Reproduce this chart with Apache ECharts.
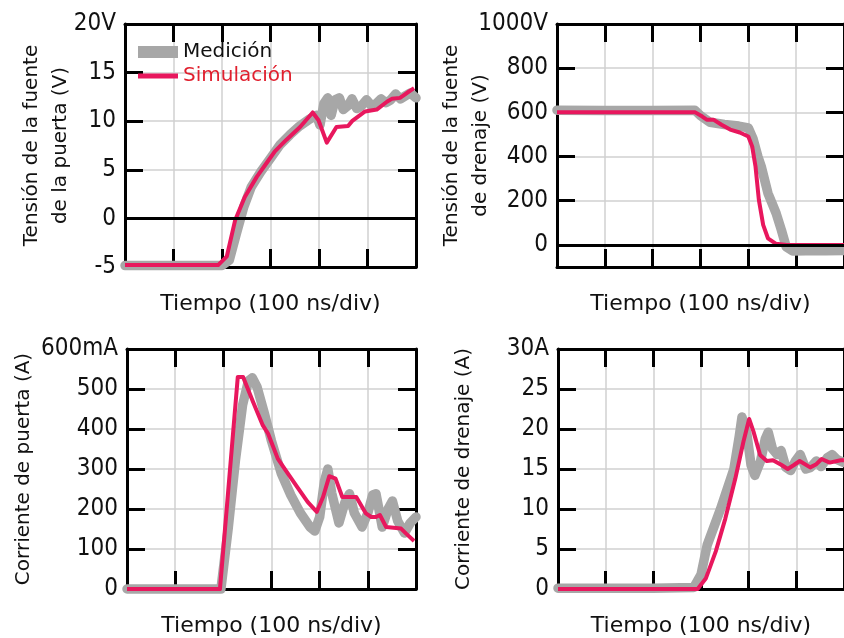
<!DOCTYPE html>
<html>
<head>
<meta charset="utf-8">
<script src="https://cdn.jsdelivr.net/npm/echarts@6/dist/echarts.min.js"></script>
<style>
html,body{margin:0;padding:0;background:#fff;}
#chart{width:844px;height:638px;}
</style>
</head>
<body>
<div id="chart"></div>
<script>
// ---- Data (time in divisions of 100 ns) ----
// Panel 1: gate-source voltage (V)
const vgsMeasT = [0, 0.5, 1.0, 1.5, 2.0, 2.15, 2.3, 2.45, 2.6, 2.8, 3.0, 3.2, 3.4, 3.6, 3.8, 3.95, 4.02, 4.1, 4.18, 4.25, 4.33, 4.42, 4.5, 4.6, 4.68, 4.78, 4.88, 4.98, 5.08, 5.18, 5.28, 5.38, 5.48, 5.58, 5.68, 5.78, 5.88, 6.0];
const vgsMeasV = [-4.85, -4.85, -4.85, -4.85, -4.85, -4.3, -1.5, 1.2, 3.2, 4.8, 6.2, 7.6, 8.6, 9.5, 10.2, 10.6, 9.6, 11.8, 12.4, 10.6, 12.2, 12.4, 11.2, 11.6, 12.3, 11.3, 11.6, 12.2, 11.6, 11.8, 12.3, 11.9, 12.2, 12.8, 12.3, 12.6, 12.9, 12.4];
const vgsSimT = [0, 1.92, 2.10, 2.27, 2.47, 2.72, 2.92, 3.09, 3.33, 3.61, 3.87, 3.99, 4.16, 4.36, 4.60, 4.68, 4.95, 5.19, 5.40, 5.50, 5.67, 5.81, 5.96];
const vgsSimV = [-4.8, -4.8, -3.9, -0.2, 2.2, 4.3, 5.7, 6.9, 8.1, 9.4, 10.9, 10.1, 7.8, 9.4, 9.5, 10.0, 11.0, 11.2, 12.0, 12.3, 12.4, 12.9, 13.4];

// Panel 2: drain-source voltage (V)
const vdsMeasT = [0, 1, 2, 2.88, 3.0, 3.2, 3.5, 3.8, 4.0, 4.1, 4.2, 4.27, 4.41, 4.58, 4.69, 4.79, 4.93, 5.2, 5.6, 6.0];
const vdsMeasV = [610, 608, 608, 610, 585, 555, 545, 538, 530, 480, 400, 355, 234, 144, 68, -8, -28, -26, -26, -25];
const vdsSimT = [0, 2.89, 3.03, 3.13, 3.27, 3.44, 3.62, 3.82, 4.0, 4.08, 4.15, 4.22, 4.31, 4.41, 4.58, 4.8, 6.0];
const vdsSimV = [600, 600, 582, 567, 567, 544, 522, 509, 491, 446, 355, 204, 91, 30, 5, 0, 0];

// Panel 3: gate current (mA)
const igMeasT = [0, 1.55, 1.95, 2.1, 2.25, 2.4, 2.52, 2.6, 2.7, 2.85, 3.0, 3.2, 3.4, 3.6, 3.8, 3.9, 4.0, 4.1, 4.17, 4.25, 4.4, 4.52, 4.62, 4.72, 4.88, 5.0, 5.1, 5.17, 5.3, 5.42, 5.51, 5.62, 5.76, 5.88, 6.0];
const igMeasV = [0, 0, 0, 150, 320, 460, 520, 528, 505, 440, 370, 290, 235, 190, 155, 145, 180, 270, 300, 240, 165, 215, 238, 190, 155, 190, 235, 238, 155, 200, 220, 170, 140, 165, 180];
const igSimT = [0, 1.93, 2.30, 2.41, 2.62, 2.82, 2.93, 3.13, 3.27, 3.51, 3.75, 3.94, 4.07, 4.20, 4.33, 4.47, 4.76, 4.96, 5.07, 5.17, 5.25, 5.38, 5.69, 5.79, 5.96];
const igSimV = [0, 0, 530, 530, 467, 409, 388, 326, 301, 259, 218, 193, 230, 282, 276, 230, 230, 189, 180, 180, 185, 155, 151, 139, 120];

// Panel 4: drain current (A)
const idMeasT = [0, 1, 2, 2.85, 3.0, 3.13, 3.41, 3.69, 3.8, 3.86, 3.96, 4.05, 4.13, 4.25, 4.35, 4.41, 4.5, 4.6, 4.68, 4.78, 4.88, 4.98, 5.08, 5.2, 5.3, 5.42, 5.52, 5.65, 5.75, 5.85, 6.0];
const idMeasV = [0.1, 0.1, 0.1, 0.2, 1.8, 5.5, 10, 15, 19, 21.5, 19.5, 15.5, 14.2, 16.0, 18.8, 19.6, 17.5, 16.8, 17.3, 15.2, 14.8, 16.0, 16.8, 15.0, 15.2, 16.0, 15.3, 16.4, 16.8, 16.2, 15.8];
const idSimT = [0, 2.93, 3.10, 3.31, 3.51, 3.72, 3.89, 4.01, 4.10, 4.24, 4.38, 4.51, 4.69, 4.82, 4.95, 5.07, 5.29, 5.42, 5.53, 5.70, 5.93, 6.0];
const idSimV = [0, 0, 1.3, 4.7, 8.8, 13.8, 18.4, 21.25, 19.7, 16.75, 16.0, 16.1, 15.5, 15.0, 15.5, 16.0, 15.2, 15.6, 16.25, 15.8, 16.1, 16.1];

// Axis settings / labels
const seriesNames = ['Medición', 'Simulación'];
const xAxisName = 'Tiempo (100 ns/div)';
const yNames = ['Tensión de la fuente\nde la puerta (V)', 'Tensión de la fuente\nde drenaje (V)', 'Corriente de puerta (A)', 'Corriente de drenaje (A)'];
const yMins = [-5, -100, 0, 0];
const yMaxs = [20, 1000, 600, 30];
const yIntervals = [5, null, 100, 5];
const yUnits = ['V', 'V', 'mA', 'A'];
const xMin = 0, xMax = 6, xInterval = 1;

// ---- Layout / styles ----
const grids = [
  {left: 125, top: 24, width: 291, height: 243},
  {left: 557, top: 24, width: 291, height: 243},
  {left: 127, top: 349, width: 289, height: 240},
  {left: 558, top: 349, width: 290, height: 240}
];
const yNameGaps = [50, 62, 89, 80];
const hasZeroLine = [true, true, false, false];
const GRAY = '#a7a7a7';
const PINK = '#e8175d';
const TICKFONT = '"DejaVu Sans Condensed", "Liberation Sans", sans-serif';
const TEXTFONT = '"DejaVu Sans", "Noto Sans", sans-serif';

const panels = [
  [vgsMeasT, vgsMeasV, vgsSimT, vgsSimV],
  [vdsMeasT, vdsMeasV, vdsSimT, vdsSimV],
  [igMeasT, igMeasV, igSimT, igSimV],
  [idMeasT, idMeasV, idSimT, idSimV]
];
const zip = (t, v) => t.map((x, i) => [x, v[i]]);

const xAxes = [], yAxes = [], series = [];
grids.forEach((g, i) => {
  const tickStyle = {show: true, inside: true, length: 18, lineStyle: {color: '#000', width: 3}};
  const lineStyle = {show: true, onZero: false, lineStyle: {color: '#000', width: 3}};
  xAxes.push({
    type: 'value', gridIndex: i, position: 'bottom', min: xMin, max: xMax, interval: xInterval,
    axisLine: lineStyle, axisTick: tickStyle, axisLabel: {show: false},
    splitLine: {show: true, lineStyle: {color: '#d0d0d0', width: 1.5}},
    name: xAxisName, nameLocation: 'middle', nameGap: 26, nameMoveOverlap: false,
    nameTextStyle: {fontFamily: TEXTFONT, fontSize: 22, color: '#111'}
  });
  xAxes.push({
    type: 'value', gridIndex: i, position: 'top', min: xMin, max: xMax, interval: xInterval,
    axisLine: lineStyle, axisTick: tickStyle, axisLabel: {show: false}, splitLine: {show: false}
  });
  const yBase = {type: 'value', gridIndex: i, min: yMins[i], max: yMaxs[i]};
  if (yIntervals[i]) yBase.interval = yIntervals[i]; else yBase.splitNumber = 5;
  yAxes.push(Object.assign({}, yBase, {
    position: 'left',
    axisLine: lineStyle, axisTick: tickStyle,
    axisLabel: {
      show: true, margin: 9, fontFamily: TICKFONT, fontSize: 24, color: '#111',
      formatter: (v) => (v === yMaxs[i] ? v + yUnits[i] : (v < yMins[i] + 1e-9 && i === 1 ? '' : String(v)))
    },
    splitLine: {show: true, lineStyle: {color: '#d0d0d0', width: 1.5}},
    name: yNames[i], nameLocation: 'middle', nameRotate: 90, nameGap: yNameGaps[i], nameMoveOverlap: false,
    nameTextStyle: {fontFamily: TEXTFONT, fontSize: 20, lineHeight: 29, color: '#111'}
  }));
  yAxes.push(Object.assign({}, yBase, {
    position: 'right', axisLine: lineStyle, axisTick: tickStyle,
    axisLabel: {show: false}, splitLine: {show: false}
  }));
  const [mt, mv, st, sv] = panels[i];
  if (hasZeroLine[i]) {
    series.push({
      type: 'line', xAxisIndex: 2 * i, yAxisIndex: 2 * i, data: [], z: 1, silent: true,
      markLine: {
        silent: true, symbol: ['none', 'none'], label: {show: false},
        lineStyle: {color: '#000', width: 3, type: 'solid'},
        emphasis: {disabled: true},
        data: [{yAxis: 0}]
      }
    });
  }
  series.push({
    name: seriesNames[0], type: 'line', xAxisIndex: 2 * i, yAxisIndex: 2 * i,
    data: zip(mt, mv), showSymbol: false, symbol: 'none', clip: false, z: 2,
    color: GRAY, lineStyle: {color: GRAY, width: 9.5, cap: 'round', join: 'round'}
  });
  series.push({
    name: seriesNames[1], type: 'line', xAxisIndex: 2 * i, yAxisIndex: 2 * i,
    data: zip(st, sv), showSymbol: false, symbol: 'none', clip: false, z: 3,
    color: PINK, lineStyle: {color: PINK, width: 4, join: 'round'}
  });
});

const option = {
  backgroundColor: '#fff',
  animation: false,
  grid: grids.map(g => Object.assign({containLabel: false}, g)),
  xAxis: xAxes,
  yAxis: yAxes,
  legend: [
    {data: [{name: seriesNames[0], icon: 'rect'}], left: 138, top: 42, padding: 0,
     itemWidth: 40, itemHeight: 12, selectedMode: false,
     textStyle: {fontFamily: TEXTFONT, fontSize: 20, color: '#111'}},
    {data: [{name: seriesNames[1], icon: 'rect'}], left: 138, top: 66, padding: 0,
     itemWidth: 40, itemHeight: 5, selectedMode: false,
     textStyle: {fontFamily: TEXTFONT, fontSize: 20, color: '#e0202e'}}
  ],
  series: series
};

const chart = echarts.init(document.getElementById('chart'), null, {renderer: 'canvas'});
chart.setOption(option);
</script>
</body>
</html>
